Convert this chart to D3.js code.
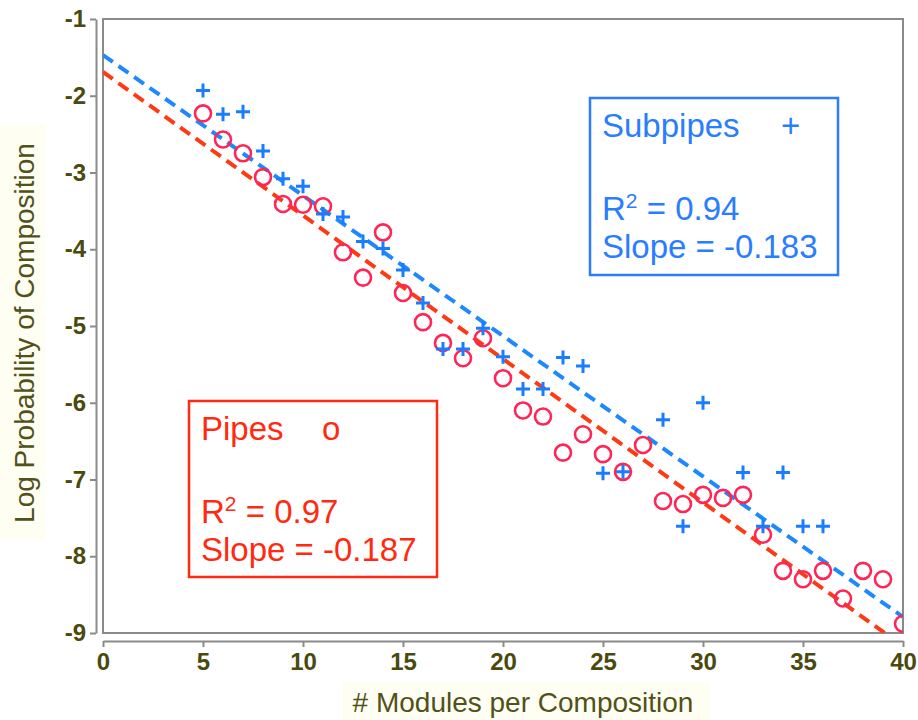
<!DOCTYPE html>
<html>
<head>
<meta charset="utf-8">
<script src="https://cdn.jsdelivr.net/npm/d3@7"></script>
<style>
    body { margin: 0; background: #fff; }
    svg { display: block; font-family: "Liberation Sans", Arial, sans-serif; }
</style>
</head>
<body>
<svg id="chart" width="918" height="720"></svg>
<script>
// pipes (circles)
var pipes_x = [5, 6, 7, 8, 9, 10, 11, 12, 13, 14, 15, 16, 17, 18, 19, 20, 21, 22, 23, 24, 25, 26, 27, 28,
    29, 30, 31, 32, 33, 34, 35, 36, 37, 38, 39, 40];
var pipes_y = [-2.23, -2.57, -2.75, -3.06, -3.41, -3.42, -3.44, -4.04, -4.37, -3.78, -4.57, -4.95, -5.22, -5.42,
    -5.16, -5.68, -6.10, -6.18, -6.65, -6.41, -6.67, -6.90, -6.55, -7.28, -7.32, -7.20, -7.24, -7.20, -7.72,
    -8.19, -8.30, -8.19, -8.55, -8.19, -8.30, -8.88];

// subpipes (plus signs)
var sub_x = [5, 6, 7, 8, 9, 10, 11, 12, 13, 14, 15, 16, 17, 18, 19, 20, 21, 22, 23, 24, 25, 26, 28, 29, 30,
    32, 33, 34, 35, 36];
var sub_y = [-1.93, -2.24, -2.21, -2.72, -3.08, -3.18, -3.54, -3.58, -3.90, -3.99, -4.27, -4.70, -5.30, -5.30,
    -5.03, -5.40, -5.82, -5.82, -5.41, -5.52, -6.92, -6.90, -6.22, -7.61, -6.00, -6.91, -7.61, -6.91, -7.61, -7.61];

// fitted lines: [intercept, slope]
var pipes_fit = [-1.69, -0.187];
var sub_fit = [-1.47, -0.183];

var x_ticks = [0, 5, 10, 15, 20, 25, 30, 35, 40];
var y_ticks = [-1, -2, -3, -4, -5, -6, -7, -8, -9];
var legend_sub = ["Subpipes", "0.94", "-0.183"];
var legend_pipes = ["Pipes", "0.97", "-0.187"];

var svg = d3.select('#chart');
var x = d3.scaleLinear().domain([0, 40]).range([103, 903]);
var y = d3.scaleLinear().domain([-1, -9]).range([19, 633]);

var label_color = '#4a4a0e';
var axis_gray = '#8a8a8a';

// title backgrounds
svg.append('rect').attr('x', 0).attr('y', 123).attr('width', 45).attr('height', 417).attr('fill', '#fefef2');
svg.append('rect').attr('x', 342).attr('y', 682).attr('width', 368).attr('height', 38).attr('fill', '#fefef2');

svg.append('defs').append('clipPath').attr('id', 'plot-clip')
    .append('rect')
    .attr('x', x(0)).attr('y', y(-1))
    .attr('width', x(40) - x(0)).attr('height', y(-9) - y(-1));

// plot frame
svg.append('rect')
    .attr('x', x(0)).attr('y', y(-1))
    .attr('width', x(40) - x(0)).attr('height', y(-9) - y(-1))
    .attr('fill', 'none').attr('stroke', axis_gray).attr('stroke-width', 2);

var y_axis = svg.append('g')
    .attr('transform', 'translate(96,0)')
    .call(d3.axisLeft(y).tickValues(y_ticks).tickSize(6).tickSizeOuter(0).tickPadding(4)
        .tickFormat(d3.format('d')));
var x_axis = svg.append('g')
    .attr('transform', 'translate(0,641)')
    .call(d3.axisBottom(x).tickValues(x_ticks).tickSize(6).tickSizeOuter(0).tickPadding(6));

[y_axis, x_axis].forEach(function(ax) {
    ax.attr('font-size', null).attr('font-family', null);
    ax.select('.domain').attr('stroke', axis_gray).attr('stroke-width', 2);
    ax.selectAll('.tick line').attr('stroke', axis_gray).attr('stroke-width', 2);
    ax.selectAll('.tick text')
        .attr('fill', label_color)
        .style('font-weight', 'bold')
        .style('font-size', '24px');
});
y_axis.selectAll('.tick text').text(function(d) { return String(d).replace('\u2212', '-'); });

// axis titles
svg.append('text')
    .attr('transform', 'translate(34,333) rotate(-90)')
    .attr('text-anchor', 'middle')
    .attr('fill', '#51511a')
    .style('font-size', '28px')
    .text('Log Probability of Composition');
svg.append('text')
    .attr('x', 523).attr('y', 712)
    .attr('text-anchor', 'middle')
    .attr('fill', '#51511a')
    .style('font-size', '28px')
    .text('# Modules per Composition');

var plot = svg.append('g').attr('clip-path', 'url(#plot-clip)');

// dashed fits
var fits = [[pipes_fit, '#ff3a12'], [sub_fit, '#1e88ff']];
for (var [fit, col] of fits) {
    plot.append('line')
        .attr('x1', x(0)).attr('y1', y(fit[0]))
        .attr('x2', x(40)).attr('y2', y(fit[0] + fit[1] * 40))
        .attr('stroke', col)
        .attr('stroke-width', 4)
        .attr('stroke-dasharray', '12,7');
}

plot.selectAll('.pipe-pt')
    .data(pipes_x.map(function(d, i) { return [d, pipes_y[i]]; }))
    .enter().append('circle')
    .attr('class', 'pipe-pt')
    .attr('cx', function(d) { return x(d[0]); })
    .attr('cy', function(d) { return y(d[1]); })
    .attr('r', 8)
    .attr('fill', 'none')
    .attr('stroke', '#ff2556')
    .attr('stroke-width', 2.6);

plot.selectAll('.sub-pt')
    .data(sub_x.map(function(d, i) { return [d, sub_y[i]]; }))
    .enter().append('path')
    .attr('class', 'sub-pt')
    .attr('d', function(d) {
        var cx = x(d[0]), cy = y(d[1]);
        return 'M' + (cx - 7) + ',' + cy + 'H' + (cx + 7) + 'M' + cx + ',' + (cy - 7) + 'V' + (cy + 7);
    })
    .attr('stroke', '#1a7dff')
    .attr('stroke-width', 3)
    .attr('fill', 'none');

// legend boxes
function drawLegend(bx, by, bw, bh, col, vals, marker, marker_x) {
    var g = svg.append('g').attr('fill', col).style('font-size', '33px');
    g.append('rect')
        .attr('x', bx).attr('y', by).attr('width', bw).attr('height', bh)
        .attr('fill', 'none').attr('stroke', col).attr('stroke-width', 2.5);
    g.append('text').attr('x', bx + 12).attr('y', by + 39).text(vals[0]);
    g.append('text').attr('x', marker_x).attr('y', by + 39).text(marker);
    var r2 = g.append('text').attr('x', bx + 12).attr('y', by + 122);
    r2.append('tspan').text('R');
    r2.append('tspan').attr('dy', -12).style('font-size', '21px').text('2');
    r2.append('tspan').attr('dy', 12).text(' = ' + vals[1]);
    g.append('text').attr('x', bx + 12).attr('y', by + 160).text('Slope = ' + vals[2]);
}
drawLegend(590, 98, 248, 177, '#2a7dff', legend_sub, '+', 781);
drawLegend(189, 401, 248, 176, '#ff2a10', legend_pipes, 'o', 322);
</script>
</body>
</html>
